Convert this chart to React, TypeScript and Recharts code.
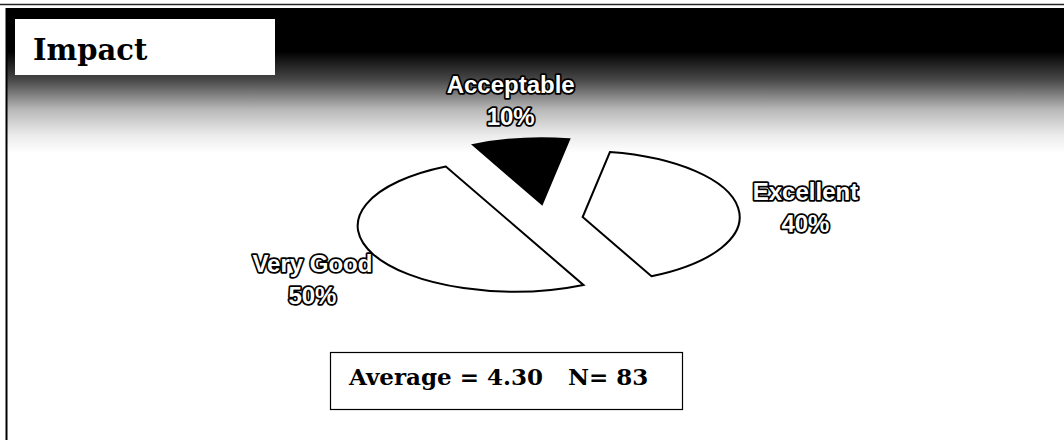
import React from "react";
import { PieChart, Pie, Cell } from "recharts";

// Ratings for "Impact"
const CATEGORIES = ["Acceptable", "Very Good", "Excellent"];
const PERCENTS = [10, 50, 40];
const SLICE_FILLS = ["#000000", "#ffffff", "#ffffff"];
const TITLE = "Impact";
const AVERAGE = "4.30";
const RESPONSES = 83;

// Pie geometry (tilted, exploded pie)
const W = 1064;
const H = 440;
const CX = 542;
const CY = 217;
const RADIUS = 157;
const TILT = 0.42; // vertical squash of the pie disc
const EXPLODE = 36;
const START_ANGLE = 80;
const LABEL_RX = 225;
const LABEL_RY = 110;

const data = CATEGORIES.map((name, i) => ({ name, value: PERCENTS[i] }));
const total = PERCENTS.reduce((s, v) => s + v, 0);

// Mid angle (degrees) of each slice, following the pie's own angle layout
const midAngles = PERCENTS.map((v, i) => {
  const before = PERCENTS.slice(0, i).reduce((s, x) => s + x, 0);
  return START_ANGLE + ((before + v / 2) / total) * 360;
});

const rad = (d: number) => (d * Math.PI) / 180;

const labelStyle: React.CSSProperties = {
  fontFamily: "'Liberation Sans', Arial, sans-serif",
  fontWeight: 700,
  fontSize: 24,
};

const makeLabel = (owner: number) => (props: any) => {
  const { cx, cy, midAngle, index, name, value } = props;
  if (index !== owner) return null;
  const sx = cx;
  const sy = CY + TILT * (cy - CY);
  const lx = sx + LABEL_RX * Math.cos(rad(midAngle));
  const ly = sy - LABEL_RY * Math.sin(rad(midAngle));
  return (
    <text
      x={lx}
      y={ly}
      textAnchor="middle"
      fill="#ffffff"
      stroke="#000000"
      strokeWidth={3.5}
      strokeLinejoin="round"
      paintOrder="stroke"
      style={labelStyle}
    >
      <tspan x={lx} y={ly - 2}>
        {name}
      </tspan>
      <tspan x={lx} y={ly + 30}>
        {`${value}%`}
      </tspan>
    </text>
  );
};

const pieCss = `
.impact-pie path.recharts-sector {
  transform-box: view-box;
  transform-origin: 0px ${CY}px;
  transform: scaleY(${TILT});
  vector-effect: non-scaling-stroke;
}
`;

export default function App() {
  return (
    <div
      style={{
        position: "absolute",
        left: 0,
        top: 0,
        width: W,
        height: H,
        background: "#ffffff",
        overflow: "hidden",
      }}
    >
      <style>{pieCss}</style>
      <svg
        width={W}
        height={H}
        style={{ position: "absolute", left: 0, top: 0 }}
      >
        <defs>
          <linearGradient id="band" x1="0" y1="0" x2="0" y2="1">
            <stop offset="0" stopColor="#000000" />
            <stop offset="0.3" stopColor="#000000" />
            <stop offset="0.5" stopColor="#4a4a4a" />
            <stop offset="0.7" stopColor="#b8b8b8" />
            <stop offset="0.88" stopColor="#ececec" />
            <stop offset="1" stopColor="#ffffff" />
          </linearGradient>
        </defs>
        <line x1={0} x2={W} y1={4.5} y2={4.5} stroke="#222" strokeWidth={1.5} />
        <rect x={6} y={8} width={W - 6} height={145} fill="url(#band)" />
        <line x1={6.5} x2={6.5} y1={8} y2={H} stroke="#000" strokeWidth={2} />
        <rect x={15} y={19} width={260} height={56} fill="#ffffff" />
        <text
          x={33}
          y={60}
          fill="#000"
          style={{
            fontFamily: "'DejaVu Serif', serif",
            fontWeight: 700,
            fontSize: 29,
          }}
        >
          {TITLE}
        </text>
        <rect
          x={330.5}
          y={352.5}
          width={352}
          height={57}
          fill="#ffffff"
          stroke="#000"
          strokeWidth={1.2}
        />
        <text
          y={385}
          fill="#000"
          style={{
            fontFamily: "'DejaVu Serif', serif",
            fontWeight: 700,
            fontSize: 23,
          }}
        >
          <tspan x={349}>{`Average = ${AVERAGE}`}</tspan>
          <tspan x={568}>{`N= ${RESPONSES}`}</tspan>
        </text>
      </svg>
      <div className="impact-pie" style={{ position: "absolute", left: 0, top: 0 }}>
        <PieChart width={W} height={H}>
          {CATEGORIES.map((cat, i) => (
            <Pie
              key={cat}
              data={data}
              dataKey="value"
              nameKey="name"
              cx={CX + EXPLODE * Math.cos(rad(midAngles[i]))}
              cy={CY - EXPLODE * Math.sin(rad(midAngles[i]))}
              outerRadius={RADIUS}
              innerRadius={0}
              startAngle={START_ANGLE}
              endAngle={START_ANGLE + 360}
              paddingAngle={0}
              isAnimationActive={false}
              labelLine={false}
              label={makeLabel(i)}
            >
              {data.map((d, j) => (
                <Cell
                  key={d.name}
                  fill={j === i ? SLICE_FILLS[i] : "none"}
                  stroke={j === i ? "#000000" : "none"}
                  strokeWidth={2}
                />
              ))}
            </Pie>
          ))}
        </PieChart>
      </div>
    </div>
  );
}
